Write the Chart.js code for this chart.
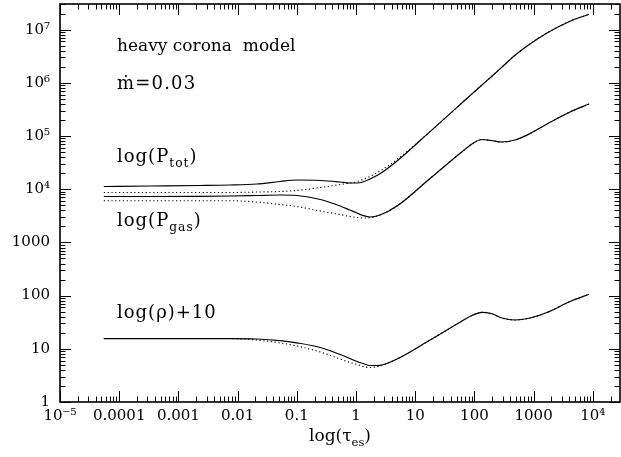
<!DOCTYPE html>
<html>
<head>
<meta charset="utf-8">
<script src="https://cdn.jsdelivr.net/npm/chart.js@4.4.1/dist/chart.umd.min.js"></script>
<style>
  html, body { margin: 0; padding: 0; background: #ffffff; }
  #wrap { width: 621px; height: 457px; }
</style>
</head>
<body>
<div id="wrap"><canvas id="chart" width="621" height="457"></canvas></div>
<script>
// optical depth samples shared by every curve
const tau = [5.5e-5, 3.3e-4, 2.3e-3, 7.4e-3, 0.021, 0.052, 0.1, 0.25, 0.54, 0.79, 1.04, 1.31, 1.72,
  2.54, 4.93, 17.8, 64, 91, 134, 191, 292, 485, 869, 1680, 4120, 8630];

const ptotSolid = [11250, 11480, 11740, 11990, 12530, 13960, 14890, 14580, 13650, 13090, 13090, 13650, 15550,
  19500, 33900, 121000, 435000, 619000, 911000, 1.29e6, 1.97e6, 3.3e6, 5.38e6, 8.65e6, 1.44e7, 1.94e7];
const ptotDotted = [8670, 8670, 8670, 8670, 8850, 9050, 9460, 10770, 12250, 13090, 13960, 15220, 17330,
  21990, 36140, 121000, 435000, 619000, 911000, 1.29e6, 1.97e6, 3.3e6, 5.38e6, 8.65e6, 1.44e7, 1.94e7];

const pgasSolid = [7290, 7290, 7360, 7450, 7620, 7780, 7620, 6400, 4830, 4060, 3570, 3210, 3000,
  3270, 4830, 15900, 52300, 70800, 85900, 82300, 77100, 84100, 111000, 168000, 283000, 400000];
const pgasDotted = [6080, 6080, 6080, 6080, 5740, 5160, 4730, 3890, 3350, 3070, 2940, 2880, 2910,
  3270, 4830, 15900, 52300, 70800, 85900, 82300, 77100, 84100, 111000, 168000, 283000, 400000];

const rhoSolid = [15.6, 15.6, 15.6, 15.6, 15.3, 14.3, 12.97, 10.6, 7.81, 6.57, 5.77, 5.29, 4.85,
  4.9, 6.43, 14.6, 34.0, 42.3, 48.5, 46.1, 37.9, 34.8, 37.9, 48.1, 77.5, 105.8];
const rhoDotted = [15.6, 15.6, 15.6, 15.6, 14.6, 12.9, 11.3, 8.71, 6.43, 5.53, 5.07, 4.65, 4.45,
  4.75, 6.43, 14.6, 34.0, 42.3, 48.5, 46.1, 37.9, 34.8, 37.9, 48.1, 77.5, 105.8];

const xTicks = [1e-5, 1e-4, 1e-3, 1e-2, 0.1, 1, 10, 100, 1000, 1e4];
const xTickLabels = ["10\u207B\u2075", "0.0001", "0.001", "0.01", "0.1", "1", "10", "100", "1000", "10\u2074"];
const yTicks = [1, 10, 100, 1000, 1e4, 1e5, 1e6, 1e7];
const yTickLabels = ["1", "10", "100", "1000", "10\u2074", "10\u2075", "10\u2076", "10\u2077"];

const X_MIN = 1e-5, X_MAX = 28800;
const Y_MIN = 1, Y_MAX = 3.03e7;

const serif = '"DejaVu Serif", "Liberation Serif", serif';

function series(ys) {
  return tau.map((t, i) => ({ x: t, y: ys[i] }));
}

function lineSet(ys, dotted) {
  return {
    data: series(ys),
    borderColor: "#000000",
    borderWidth: dotted ? 1.1 : 1.2,
    borderDash: dotted ? [1.2, 2.6] : [],
    pointRadius: 0,
    fill: false,
    tension: 0.4,
    cubicInterpolationMode: "monotone",
  };
}

// inward tick marks on all four sides plus the frame
const frameTicks = {
  id: "frameTicks",
  afterDraw(chart) {
    const { ctx, chartArea: a, scales } = chart;
    const xs = scales.x, ys = scales.y;
    ctx.save();
    ctx.strokeStyle = "#000000";
    ctx.lineWidth = 1;
    ctx.beginPath();
    for (let e = -5; e <= 4; e++) {
      for (let m = 1; m <= 9; m++) {
        const v = m * 10 ** e;
        if (v < X_MIN || v > X_MAX) continue;
        const px = Math.round(xs.getPixelForValue(v)) + 0.5;
        const len = m === 1 ? 11 : 5.5;
        ctx.moveTo(px, a.bottom); ctx.lineTo(px, a.bottom - len);
        ctx.moveTo(px, a.top); ctx.lineTo(px, a.top + len);
      }
    }
    for (let e = 0; e <= 7; e++) {
      for (let m = 1; m <= 9; m++) {
        const v = m * 10 ** e;
        if (v < Y_MIN || v > Y_MAX) continue;
        const py = Math.round(ys.getPixelForValue(v)) + 0.5;
        const len = m === 1 ? 11 : 5.5;
        ctx.moveTo(a.left, py); ctx.lineTo(a.left + len, py);
        ctx.moveTo(a.right, py); ctx.lineTo(a.right - len, py);
      }
    }
    ctx.stroke();
    ctx.lineWidth = 1.6;
    ctx.strokeRect(a.left, a.top, a.right - a.left, a.bottom - a.top);
    ctx.restore();
  },
};

function drawParts(ctx, x, y, parts, size, spacing = 0) {
  let cx = x;
  ctx.letterSpacing = `${spacing}px`;
  parts.forEach((p) => {
    const fs = p.sub ? size * 0.68 : size;
    ctx.font = `${fs}px ${serif}`;
    ctx.fillText(p.t, cx, p.sub ? y + size * 0.28 : y);
    cx += ctx.measureText(p.t).width;
  });
  ctx.letterSpacing = "0px";
  return cx - x;
}

const labels = {
  id: "labels",
  afterDraw(chart) {
    const { ctx, chartArea: a } = chart;
    ctx.save();
    ctx.fillStyle = "#000000";
    ctx.textBaseline = "alphabetic";
    ctx.textAlign = "left";
    drawParts(ctx, 117, 51, [{ t: "heavy corona  model" }], 17);
    drawParts(ctx, 117, 89, [{ t: "\u1E41=0.03" }], 18, 1.2);
    drawParts(ctx, 117, 162, [{ t: "log(P" }, { t: "tot", sub: true }, { t: ")" }], 18, 1);
    drawParts(ctx, 117, 226, [{ t: "log(P" }, { t: "gas", sub: true }, { t: ")" }], 18, 1);
    drawParts(ctx, 117, 318, [{ t: "log(\u03C1)+10" }], 18, 1);

    // x axis title, centred under the plot
    const tparts = [{ t: "log(\u03C4" }, { t: "es", sub: true }, { t: ")" }];
    ctx.globalAlpha = 0;
    const w = drawParts(ctx, 0, 0, tparts, 17);
    ctx.globalAlpha = 1;
    drawParts(ctx, (a.left + a.right) / 2 - w / 2, 441, tparts, 17);
    ctx.restore();
  },
};

new Chart(document.getElementById("chart"), {
  type: "line",
  data: {
    datasets: [
      lineSet(ptotDotted, true),
      lineSet(pgasDotted, true),
      lineSet(rhoDotted, true),
      lineSet(ptotSolid, false),
      lineSet(pgasSolid, false),
      lineSet(rhoSolid, false),
    ],
  },
  options: {
    responsive: false,
    animation: false,
    layout: { padding: { top: 4, right: 1, left: 0, bottom: 0 } },
    plugins: { legend: { display: false }, tooltip: { enabled: false } },
    scales: {
      x: {
        type: "logarithmic",
        min: X_MIN,
        max: X_MAX,
        grid: { display: false, drawTicks: false },
        border: { display: false },
        afterBuildTicks(scale) { scale.ticks = xTicks.map((v) => ({ value: v })); },
        afterFit(scale) {
          scale.height = 55;
          scale.paddingLeft = 0;
          scale.paddingRight = 0;
        },
        ticks: {
          autoSkip: false,
          maxRotation: 0,
          padding: 5,
          color: "#000000",
          font: { family: serif, size: 15 },
          callback: (v, i) => xTickLabels[i],
        },
      },
      y: {
        type: "logarithmic",
        min: Y_MIN,
        max: Y_MAX,
        grid: { display: false, drawTicks: false },
        border: { display: false },
        afterBuildTicks(scale) { scale.ticks = yTicks.map((v) => ({ value: v })); },
        afterFit(scale) {
          scale.width = 60;
          scale.paddingTop = 0;
          scale.paddingBottom = 0;
        },
        ticks: {
          autoSkip: false,
          padding: 10,
          color: "#000000",
          font: { family: serif, size: 15 },
          callback: (v, i) => yTickLabels[i],
        },
      },
    },
  },
  plugins: [frameTicks, labels],
});
</script>
</body>
</html>
